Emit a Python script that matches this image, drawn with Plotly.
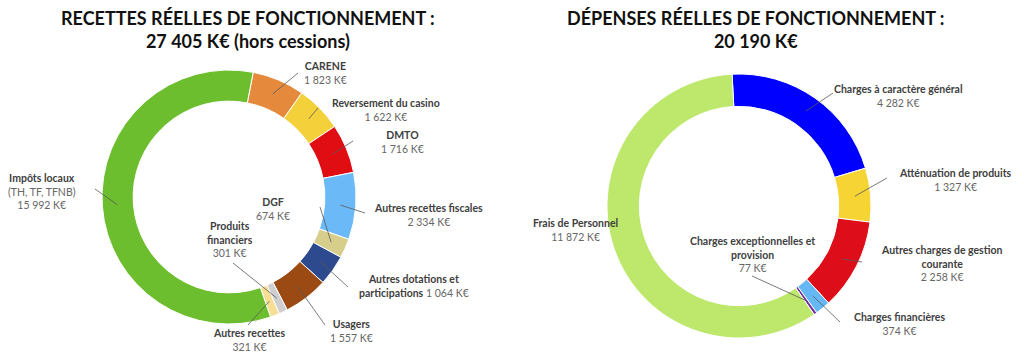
import math
import plotly.graph_objects as go

W, H = 1024, 358

# ---------------- data ----------------
rec_labels = ["CARENE", "Reversement du casino", "DMTO", "Autres recettes fiscales", "DGF",
              "Autres dotations et participations", "Usagers", "Produits financiers",
              "Autres recettes", "Impôts locaux (TH, TF, TFNB)"]
rec_values = [1823, 1622, 1716, 2334, 674, 1064, 1557, 301, 321, 15992]
rec_colors = ["#E58A3C", "#F4D03A", "#E00D12", "#6BBAF7", "#D8CE8C", "#2E4A8E",
              "#9A4A12", "#CFCFCF", "#F6DE95", "#6DBE2E"]

dep_labels = ["Charges à caractère général", "Atténuation de produits",
              "Autres charges de gestion courante", "Charges financières",
              "Charges exceptionnelles et provision", "Frais de Personnel"]
dep_values = [4282, 1327, 2258, 374, 77, 11872]
dep_colors = ["#0000FF", "#F5D433", "#DD0E1A", "#66B8F5", "#7030A0", "#BDE86C"]

rec_title = "RECETTES RÉELLES DE FONCTIONNEMENT :<br>27 405 K€ (hors cessions)"
dep_title = "DÉPENSES RÉELLES DE FONCTIONNEMENT :<br>20 190 K€"


def fmt(v):
    return f"{v:,}".replace(",", " ") + " K€"


def b(s):
    return "<b><span style='color:#404040'>" + s + "</span></b>"


# label texts (name parts, value)
rec_text = [
    b("CARENE") + "<br>" + fmt(rec_values[0]),
    b("Reversement du casino") + "<br>" + fmt(rec_values[1]),
    b("DMTO") + "<br>" + fmt(rec_values[2]),
    b("Autres recettes fiscales") + "<br>" + fmt(rec_values[3]),
    b("DGF") + "<br>" + fmt(rec_values[4]),
    b("Autres dotations et") + "<br>" + b("participations") + " " + fmt(rec_values[5]),
    b("Usagers") + "<br>" + fmt(rec_values[6]),
    b("Produits") + "<br>" + b("financiers") + "<br>" + fmt(rec_values[7]),
    b("Autres recettes") + "<br>" + fmt(rec_values[8]),
    b("Impôts locaux") + "<br>(TH, TF, TFNB)<br>" + fmt(rec_values[9]),
]
dep_text = [
    b("Charges à caractère général") + "<br>" + fmt(dep_values[0]),
    b("Atténuation de produits") + "<br>" + fmt(dep_values[1]),
    b("Autres charges de gestion") + "<br>" + b("courante") + "<br>" + fmt(dep_values[2]),
    b("Charges financières") + "<br>" + fmt(dep_values[3]),
    b("Charges exceptionnelles et") + "<br>" + b("provision") + "<br>" + fmt(dep_values[4]),
    b("Frais de Personnel") + "<br>" + fmt(dep_values[5]),
]

# ---------------- layout (pixels) ----------------
rec_center, rec_r, rec_rot = (229, 197), 127, 11
dep_center, dep_r, dep_rot = (739, 206), 132, -3
HOLE = 0.755

rec_label_pos = [(325, 73), (386, 110), (402, 142), (428, 215), (273, 209),
                 (414, 286), (351, 331), (230, 239), (249, 340), (42, 191)]
rec_line_end = [(298, 73), (318, 108), (353, 141), (365, 213), (320, 207),
                (348, 287), (325, 325), (233, 263), (248, 325), (95, 189)]
dep_label_pos = [(898, 96), (955, 180), (942, 263), (899, 324), (752, 254), (575, 230)]
dep_line_end = [(833, 93), (887, 178), (862, 262), (840, 322), (752, 276), None]


def px(x):
    return x / W


def py(y):
    return 1 - y / H


def domain(center, r):
    cx, cy = center
    return dict(x=[px(cx - r), px(cx + r)], y=[py(cy + r), py(cy - r)])


def anchors(values, rot, center, r):
    tot = sum(values)
    out, acc = [], 0
    for v in values:
        mid = rot + 360 * (acc + v / 2) / tot
        acc += v
        a = math.radians(mid)
        out.append((center[0] + r * math.sin(a), center[1] - r * math.cos(a)))
    return out


fig = go.Figure()
for labels, values, colors, center, r, rot in [
        (rec_labels, rec_values, rec_colors, rec_center, rec_r, rec_rot),
        (dep_labels, dep_values, dep_colors, dep_center, dep_r, dep_rot)]:
    fig.add_trace(go.Pie(
        labels=labels, values=values, sort=False, direction="clockwise",
        rotation=rot, hole=HOLE, textinfo="none", showlegend=False,
        marker=dict(colors=colors, line=dict(color="white", width=1)),
        domain=domain(center, r)))

shapes, annots = [], []
FONT = "Lato"
for texts, values, center, r, rot, lpos, lend in [
        (rec_text, rec_values, rec_center, rec_r, rec_rot, rec_label_pos, rec_line_end),
        (dep_text, dep_values, dep_center, dep_r, dep_rot, dep_label_pos, dep_line_end)]:
    anc = anchors(values, rot, center, r * 0.88)
    for t, a, lp, le in zip(texts, anc, lpos, lend):
        if le is not None:
            shapes.append(dict(type="line", xref="paper", yref="paper",
                               x0=px(a[0]), y0=py(a[1]), x1=px(le[0]), y1=py(le[1]),
                               line=dict(color="#595959", width=0.8)))
        annots.append(dict(text=t, x=px(lp[0]), y=py(lp[1]), xref="paper", yref="paper",
                           showarrow=False, align="center", xanchor="center",
                           yanchor="middle",
                           font=dict(family=FONT, size=10.5, color="#666666")))

for title, cx in [(rec_title, 248), (dep_title, 756)]:
    annots.append(dict(text="<b>" + title + "</b>", x=px(cx), y=py(30), xref="paper",
                       yref="paper", showarrow=False, align="center",
                       xanchor="center", yanchor="middle",
                       font=dict(family=FONT, size=18, color="#111111")))

fig.update_layout(width=W, height=H, margin=dict(l=0, r=0, t=0, b=0),
                  paper_bgcolor="white", plot_bgcolor="white",
                  shapes=shapes, annotations=annots)
fig.write_html("out.html", config={"displayModeBar": False},
               post_script="document.body.style.margin='0';document.body.style.padding='0';")
